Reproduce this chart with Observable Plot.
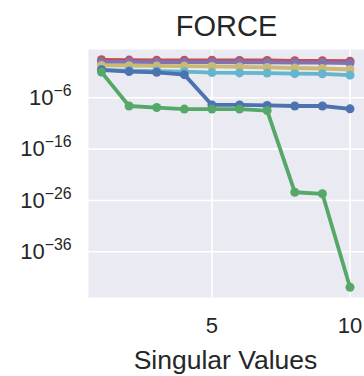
<!DOCTYPE html>
<html>
<head>
<meta charset="utf-8">
<script src="https://cdn.jsdelivr.net/npm/d3@7"></script>
<script src="https://cdn.jsdelivr.net/npm/@observablehq/plot@0.6"></script>
<style>
  html, body { margin: 0; padding: 0; background: #fff; }
  svg { display: block; }
</style>
</head>
<body>
<div id="chart"></div>
<script>
const title = "FORCE";
const xLabel = "Singular Values";
const xs = [1, 2, 3, 4, 5, 6, 7, 8, 9, 10];
const xTicks = [5, 10];
const yTicks = [1e-6, 1e-16, 1e-26, 1e-36];

const seriesNames = ["red", "purple", "yellow", "cyan", "blue", "green"];
const seriesColors = ["#C44E52", "#8172B2", "#CCB974", "#64B5CD", "#4C72B0", "#55A868"];
const red    = [2.5e1, 2.2e1, 2.0e1, 2.0e1, 2.0e1, 1.8e1, 1.8e1, 1.6e1, 1.6e1, 1.3e1];
const purple = [1.0e1, 1.0e1, 9e0, 9e0, 9e0, 8e0, 8e0, 7e0, 7e0, 5.6e0];
const yellow = [2.0e0, 1.8e0, 1.6e0, 1.4e0, 1.25e0, 1.0e0, 8e-1, 6.3e-1, 5e-1, 3.2e-1];
const cyan   = [2.5e-1, 2e-1, 1.6e-1, 1.25e-1, 8e-2, 7e-2, 6.3e-2, 5e-2, 4.5e-2, 2.5e-2];
const blue   = [2.8e-1, 1.25e-1, 9e-2, 3.2e-2, 4e-8, 4e-8, 3.2e-8, 2.5e-8, 2.5e-8, 7e-9];
const green  = [1e-1, 2.5e-8, 1.25e-8, 6.3e-9, 6.3e-9, 6.3e-9, 3.2e-9, 4e-25, 2e-25, 1.25e-43];
const seriesValues = [red, purple, yellow, cyan, blue, green];

const font = "'Liberation Sans', Arial, sans-serif";
const textColor = "#262626";

const marks = [
  Plot.frame({fill: "#EAEAF2", stroke: null}),
  Plot.gridX(xTicks, {stroke: "#fff", strokeOpacity: 1, strokeWidth: 1.6}),
  Plot.gridY(yTicks, {stroke: "#fff", strokeOpacity: 1, strokeWidth: 1.6}),
];
seriesValues.forEach((vals, i) => {
  const data = xs.map((x, j) => ({x, y: vals[j]}));
  marks.push(Plot.line(data, {x: "x", y: "y", stroke: seriesColors[i], strokeWidth: 3.8}));
  marks.push(Plot.dot(data, {x: "x", y: "y", fill: seriesColors[i], r: 4.5, stroke: null}));
});
marks.push(
  Plot.axisX(xTicks, {tickSize: 0, tickPadding: 20, fontSize: 22, label: null, fill: textColor}),
  Plot.axisY(yTicks, {tickSize: 0, tickPadding: 17, fontSize: 22, label: null, fill: textColor,
    tickFormat: d => "10|" + Math.round(Math.log10(d))}),
  Plot.text([title], {frameAnchor: "top", dy: -23, fontSize: 29, fill: textColor, lineAnchor: "middle"}),
  Plot.text([xLabel], {frameAnchor: "bottom", dy: 63, dx: -1, fontSize: 26.5, fill: textColor, lineAnchor: "middle"})
);

const chart = Plot.plot({
  width: 364,
  height: 376,
  marginLeft: 88,
  marginRight: 0,
  marginTop: 49,
  marginBottom: 79,
  style: {fontFamily: font, background: "#fff", color: textColor},
  x: {domain: [0.53, 10.525], axis: null},
  y: {type: "log", domain: [Math.pow(10, -44.9), Math.pow(10, 3.4)], axis: null},
  marks
});

// superscript exponents on y tick labels
d3.select(chart).selectAll('g[aria-label="y-axis tick label"] text').each(function() {
  const t = d3.select(this);
  const s = t.text();
  if (!s.includes("|")) return;
  const [base, exp] = s.split("|");
  t.text(null);
  t.append("tspan").text(base);
  t.append("tspan").attr("dy", "-0.55em").attr("font-size", "0.72em").text(exp.replace("-", "\u2212"));
});

document.getElementById("chart").appendChild(chart);
</script>
</body>
</html>
